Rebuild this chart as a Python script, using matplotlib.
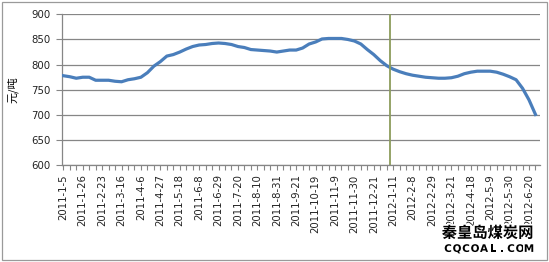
import matplotlib
matplotlib.use('Agg')
import matplotlib.pyplot as plt
import matplotlib.patheffects as pe
from matplotlib.patches import Rectangle
import pandas as pd

# weekly dates (Wednesdays), holiday weeks missing from the series
skip_dates = ['2011-02-02', '2011-10-05', '2012-01-25', '2012-04-04']
all_weeks = pd.date_range('2011-01-05', '2012-06-27', freq='7D')
dates = [d for d in all_weeks if d.strftime('%Y-%m-%d') not in skip_dates]
date_labels = [f"{d.year}-{d.month}-{d.day}" for d in dates]

# price, yuan / ton
price = [778, 776, 773, 775, 775, 769, 769, 769, 767, 766,
         770, 772, 775, 784, 797, 806, 817, 820, 825, 831,
         836, 839, 840, 842, 843, 842, 840, 836, 834, 830,
         829, 828, 827, 825, 827, 829, 829, 833, 841, 845,
         851, 852, 852, 852, 850, 847, 841, 830, 820, 808,
         798, 791, 786, 782, 779, 777, 775, 774, 773, 773,
         774, 777, 782, 785, 787, 787, 787, 785, 781, 776,
         770, 753, 730, 701]

y_ticks = [600, 650, 700, 750, 800, 850, 900]
marker_pos = 50.5  # green separator between 2012-1-4 and 2012-1-11

fig = plt.figure(figsize=(5.49, 2.62), dpi=100)
ax = fig.add_axes([0.1124, 0.369, 0.8712, 0.5764])

x = list(range(len(price)))
ax.plot(x, price, color='#4a7ebb', linewidth=2.3, solid_joinstyle='round', zorder=3)
ax.axvline(marker_pos, color='#8c9c5c', linewidth=1.3, zorder=4)

ax.set_ylim(600, 900)
ax.set_yticks(y_ticks)
ax.set_xlim(-0.25, 73.7)
ax.set_xticks(x)
ax.set_xticklabels([lbl if i % 3 == 0 else '' for i, lbl in enumerate(date_labels)],
                   rotation=90, fontsize=7.3, color='#222222')
ax.tick_params(axis='y', labelsize=7.3, labelcolor='#222222', length=4, color='#868686', pad=4)
ax.tick_params(axis='x', length=3.5, color='#868686', pad=3)
ax.grid(axis='y', color='#868686', linewidth=0.9)
ax.set_axisbelow(True)
for s in ['top', 'right']:
    ax.spines[s].set_visible(False)
for s in ['left', 'bottom']:
    ax.spines[s].set_color('#868686')
    ax.spines[s].set_linewidth(0.9)

ax.set_ylabel('元/吨', family=['Noto Sans CJK SC', 'DejaVu Sans'], fontsize=8, labelpad=6)
ax.yaxis.set_label_coords(-0.09, 0.5)

# chart border
fig.patches.append(Rectangle((0.003, 0.008), 0.993, 0.984, transform=fig.transFigure,
                             fill=False, edgecolor='#9a9a9a', linewidth=0.9))

# watermark
stroke = [pe.withStroke(linewidth=2.5, foreground='white')]
fig.text(0.888, 0.112, '秦皇岛煤炭网', family=['Noto Sans CJK SC', 'DejaVu Sans'],
         fontsize=11, fontweight='bold', ha='center', va='center', color='black',
         path_effects=stroke, zorder=10)
site = 'CQCOAL.COM'
for k, ch in enumerate(site):
    fig.text((448 + k * 9.0) / 549, 0.05, ch, family='DejaVu Sans', fontsize=7.5,
             fontweight='bold', ha='center', va='center', color='black',
             path_effects=stroke, zorder=10)

fig.savefig('out.png', dpi=100)
